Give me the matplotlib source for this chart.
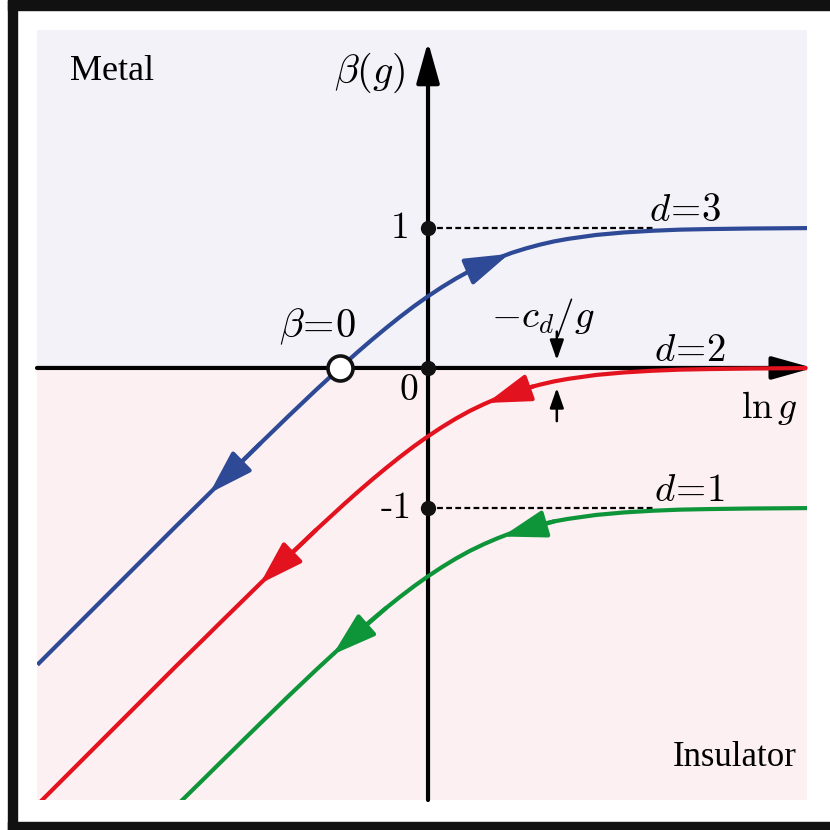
import matplotlib.pyplot as plt
from matplotlib.patches import Rectangle

plt.rcParams['mathtext.fontset'] = 'cm'

x_common = [-2.79, -2.6, -2.4, -2.2, -2.0, -1.8, -1.6, -1.5, -1.4, -1.3, -1.2, -1.1, -1.0,
            -0.9, -0.8, -0.7, -0.6, -0.5, -0.4, -0.3, -0.2, -0.1, 0.0, 0.1, 0.2, 0.3, 0.4,
            0.5, 0.6, 0.7, 0.8, 0.9, 1.0, 1.2, 1.4, 1.6, 1.8, 2.0, 2.3, 2.71]
beta_d3 = [-2.12, -1.93, -1.73, -1.53, -1.33, -1.13, -0.934, -0.835, -0.737, -0.639, -0.541,
           -0.444, -0.347, -0.252, -0.157, -0.065, 0.027, 0.116, 0.202, 0.285, 0.365, 0.441,
           0.512, 0.578, 0.639, 0.694, 0.742, 0.785, 0.823, 0.854, 0.881, 0.904, 0.922,
           0.950, 0.968, 0.980, 0.988, 0.992, 0.996, 0.999]
beta_d2 = [-3.12, -2.93, -2.73, -2.53, -2.33, -2.13, -1.934, -1.835, -1.737, -1.639, -1.541,
           -1.444, -1.347, -1.252, -1.157, -1.065, -0.973, -0.884, -0.798, -0.715, -0.635,
           -0.559, -0.488, -0.422, -0.361, -0.306, -0.258, -0.215, -0.177, -0.146, -0.119,
           -0.096, -0.078, -0.050, -0.032, -0.020, -0.012, -0.008, -0.004, -0.001]
x_d1 = [-1.8, -1.6, -1.5, -1.4, -1.3, -1.2, -1.1, -1.0, -0.9, -0.8, -0.7, -0.6, -0.5, -0.4,
        -0.3, -0.2, -0.1, 0.0, 0.1, 0.2, 0.3, 0.4, 0.5, 0.6, 0.7, 0.8, 0.9, 1.0, 1.2, 1.4,
        1.6, 1.8, 2.0, 2.3, 2.71]
beta_d1 = [-3.13, -2.934, -2.835, -2.737, -2.639, -2.541, -2.444, -2.347, -2.252, -2.157,
           -2.065, -1.973, -1.884, -1.798, -1.715, -1.635, -1.559, -1.488, -1.422, -1.361,
           -1.306, -1.258, -1.215, -1.177, -1.146, -1.119, -1.096, -1.078, -1.050, -1.032,
           -1.020, -1.012, -1.008, -1.004, -1.001]

# flow arrows: (tip, tail) pairs on each curve
arrows_d3 = [((0.58, 0.815), (0.30, 0.694)), ((-1.56, -0.894), (-1.2, -0.541))]
arrows_d2 = [((0.42, -0.25), (0.75, -0.132)), ((-1.2, -1.541), (-0.8, -1.157))]
arrows_d1 = [((0.53, -1.204), (0.9, -1.096)), ((-0.68, -2.047), (-0.3, -1.715))]

ticks_y = [1, 0, -1]
tick_text = ['1', '0', '-1']
beta_zero_x = -0.63

BLUE = '#2e4a96'
RED = '#e3121f'
GREEN = '#0e9539'

fig = plt.figure(figsize=(8.3, 8.3), dpi=100)
W = 830.0

# outer frame (left, top and bottom bands)
fig.patches.append(Rectangle((8 / W, 0), 9 / W, 1, transform=fig.transFigure, color='#111111', zorder=0))
fig.patches.append(Rectangle((8 / W, 1 - 10 / W), 1, 10 / W, transform=fig.transFigure, color='#111111', zorder=0))
fig.patches.append(Rectangle((8 / W, 0), 1, 8 / W, transform=fig.transFigure, color='#111111', zorder=0))

ax = fig.add_axes([37 / W, 30 / W, 770 / W, 770 / W])
ax.set_xlim(-2.793, 2.707)
ax.set_ylim(-3.086, 2.414)
ax.axis('off')

ax.axhspan(0, 2.414, color='#f3f2f9', zorder=0)
ax.axhspan(-3.086, 0, color='#fcf0f2', zorder=0)

# axes with arrow heads
axis_arrow = dict(arrowstyle='-|>,head_length=2.5,head_width=0.7', mutation_scale=10,
                  color='black', lw=3, shrinkA=0, shrinkB=0)
ax.annotate('', xy=(0, 2.33), xytext=(0, -3.086), arrowprops=axis_arrow,
            annotation_clip=False, zorder=4)
ax.annotate('', xy=(2.75, 0), xytext=(-2.793, 0), arrowprops=axis_arrow,
            annotation_clip=False, zorder=4)

# dashed asymptotes
ax.plot([0, 1.62], [1, 1], color='black', lw=1.6, ls=(0, (2.6, 1.5)), zorder=3)
ax.plot([0, 1.62], [-1, -1], color='black', lw=1.6, ls=(0, (2.6, 1.5)), zorder=3)

ax.plot(x_common, beta_d3, color=BLUE, lw=3, zorder=5, solid_capstyle='butt')
ax.plot(x_common, beta_d2, color=RED, lw=3, zorder=5, solid_capstyle='butt')
ax.plot(x_d1, beta_d1, color=GREEN, lw=3, zorder=5, solid_capstyle='butt')

for arrows, col in [(arrows_d3, BLUE), (arrows_d2, RED), (arrows_d1, GREEN)]:
    for tip, tail in arrows:
        ax.annotate('', xy=tip, xytext=tail,
                    arrowprops=dict(arrowstyle='-|>,head_length=2.7,head_width=0.85',
                                    mutation_scale=10, color=col, lw=3,
                                    shrinkA=0, shrinkB=0), zorder=6)

# small arrows marking -c_d/g
small = dict(arrowstyle='-|>,head_length=1.2,head_width=0.42', mutation_scale=10,
             color='black', lw=1.8, shrinkA=0, shrinkB=0)
ax.annotate('', xy=(0.92, 0.057), xytext=(0.92, 0.26), arrowprops=small, zorder=6)
ax.annotate('', xy=(0.92, -0.143), xytext=(0.92, -0.38), arrowprops=small, zorder=6)

ax.plot([0, 0, 0], ticks_y, 'o', color='#111111', ms=10, zorder=7)
ax.plot([beta_zero_x], [0], 'o', mfc='white', mec='#111111', mew=2.6, ms=18, zorder=8)

# labels
serif = ['Liberation Serif', 'DejaVu Serif']
ax.text(-2.557, 2.12, 'Metal', fontsize=26, family=serif, ha='left', va='center')
ax.text(2.636, -2.78, 'Insulator', fontsize=25, family=serif, ha='right', va='center')
ax.text(-0.164, 2.11, r'$\beta(g)$', fontsize=29, ha='right', va='center')
ax.text(-0.13, 1.0, tick_text[0], fontsize=27, family='cmr10', ha='right', va='center')
ax.text(-0.14, -0.16, tick_text[1], fontsize=27, family='cmr10', ha='center', va='center')
ax.text(-0.115, -1.0, tick_text[2], fontsize=27, family='cmr10', ha='right', va='center')
ax.text(-0.786, 0.29, r'$\beta\!=\!0$', fontsize=29, ha='center', va='center')
ax.text(0.82, 0.357, r'$-c_d/g$', fontsize=28, ha='center', va='center')
ax.text(1.836, 1.13, r'$d\!=\!3$', fontsize=28, ha='center', va='center')
ax.text(1.87, 0.13, r'$d\!=\!2$', fontsize=28, ha='center', va='center')
ax.text(1.87, -0.87, r'$d\!=\!1$', fontsize=28, ha='center', va='center')
ax.text(2.436, -0.286, r'$\ln g$', fontsize=27, ha='center', va='center')

fig.savefig('out.png', dpi=100)
